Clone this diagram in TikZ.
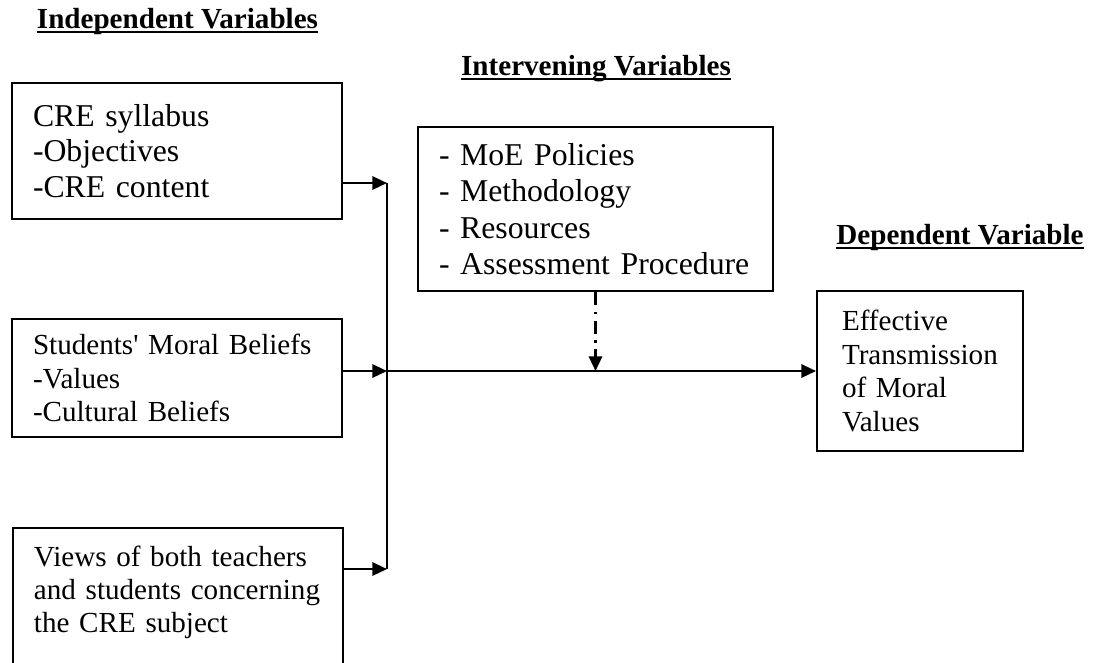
\documentclass[tikz,border=0pt]{standalone}
\usepackage{fontspec}
\setmainfont{Liberation Serif}
\usepackage{tikz}
\usetikzlibrary{arrows.meta}
\newcommand{\pxu}{0.378pt}
\newcommand{\unterstr}[1]{\setbox0\hbox{#1}\rlap{\rule[-1.9pt]{\wd0}{0.8pt}}\box0}

\begin{document}
\begin{tikzpicture}[x=0.378pt, y=-0.378pt, line width=0.85pt]
    \tikzstyle{kasten}=[ %
      draw, rectangle,
      align=left,
      line width=0.75pt,
%      fill=yellow!30,
      inner xsep=21*\pxu, inner ysep=0
    ]
    \tikzstyle{titel}=[anchor=base, inner sep=0,
      font=\fontsize{11}{13}\selectfont\bfseries]
    \tikzstyle{pfeil}=[-{Triangle[length=5.5pt,width=5pt]}]
  %  \draw[help lines] (0,0) grid (1104,662);
    \useasboundingbox (0,0) rectangle (1104,662);
    \path (177.5,28) node(indep) [titel] {\unterstr{Independent Variables}}
          (596,75)   node(interv) [titel] {\unterstr{Intervening Variables}}
          (960,244)  node(dep) [titel] {\unterstr{Dependent Variable}};
    \path (177,151) node(syll) [kasten, minimum width=330*\pxu,
                minimum height=136*\pxu, text width=288*\pxu,
                font=\fontsize{12}{13.4}\selectfont]
                {CRE syllabus\\ -Objectives\\ -CRE content}
          (177,378) node(belief) [kasten, minimum width=330*\pxu,
                minimum height=118*\pxu, text width=288*\pxu,
                font=\fontsize{11}{12.6}\selectfont]
                {Students\textquotesingle{} Moral Beliefs\\ -Values\\ -Cultural Beliefs}
          (12,527) node(views) [kasten, anchor=north west, text width=288*\pxu,
                text height=38*\pxu, text depth=160*\pxu,
                font=\fontsize{11}{12.6}\selectfont]
                {Views of both teachers\\ and students concerning\\ the CRE subject}
          (595.5,209) node(factors) [kasten, minimum width=355*\pxu,
                minimum height=164*\pxu, text width=313*\pxu,
                font=\fontsize{12}{13.8}\selectfont]
                {- MoE Policies\\ - Methodology\\ - Resources\\ - Assessment Procedure}
          (920,371) node(outcome) [kasten, minimum width=206*\pxu,
                minimum height=160*\pxu, text width=156*\pxu, inner xsep=25*\pxu,
                font=\fontsize{11}{12.8}\selectfont]
                {Effective\\ Transmission\\ of Moral\\ Values};
    % Sammelschiene
    \coordinate (b1) at (387,183);
    \coordinate (b2) at (387,371);
    \coordinate (b3) at (387,569);
    \draw[pfeil] (syll.east |- b1) -- (b1);
    \draw[pfeil] (belief.east |- b2) -- (b2);
    \draw[pfeil] (views.east |- b3) -- (b3);
    \draw (b1) -- (b3);
    \draw[pfeil] (b2) -- (outcome);
    \draw[pfeil, dash pattern=on 5pt off 2.5pt on 0.8pt off 2.5pt]
          (factors) -- (factors |- b2);
  \end{tikzpicture}
\end{document}
